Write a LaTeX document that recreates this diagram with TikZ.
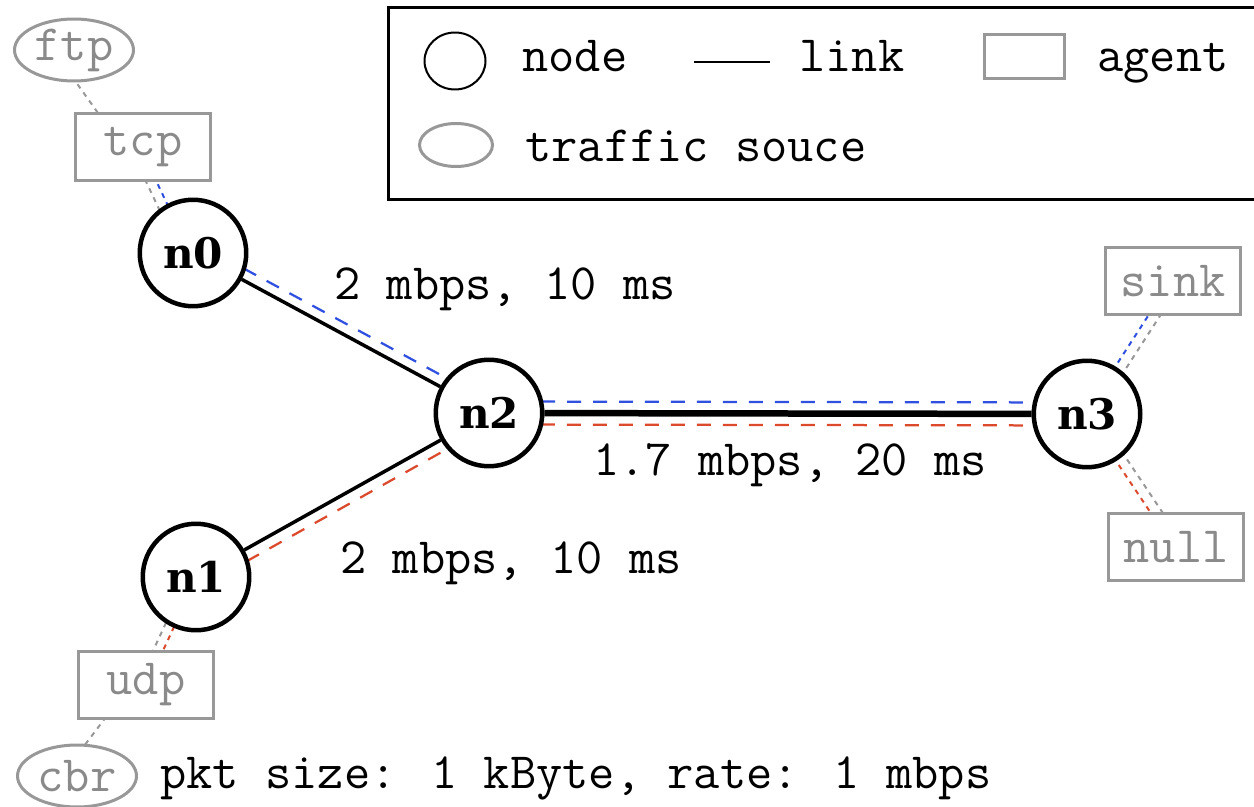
\documentclass[tikz,border=0pt]{standalone}
\usepackage{fontspec}
\newfontfamily\nodelabelfont{DejaVu Serif}
\usepackage{xcolor}
\usepackage{tikz}
\usetikzlibrary{calc}
\usetikzlibrary{shapes.geometric}
\usetikzlibrary{backgrounds}
\definecolor{flowblue}{HTML}{3050E0}
\definecolor{flowred}{HTML}{DC4A2E}
\definecolor{agentgray}{HTML}{989898}
\definecolor{agenttext}{HTML}{8A8A8A}

\begin{document}
\begin{tikzpicture}[x=0.02cm, y=-0.02cm,
    font=\ttfamily\fontsize{29}{34}\selectfont,
    netnode/.style={circle, draw, line width=0.09cm, fill=white,
        minimum size=2.13cm, inner sep=0pt,
        font=\nodelabelfont\bfseries\fontsize{24}{27}\selectfont},
    agentbox/.style={rectangle, draw=agentgray, line width=0.06cm, fill=white,
        minimum width=2.7cm, minimum height=1.34cm, inner sep=0pt, text=agenttext,
        font=\ttfamily\fontsize{29}{34}\selectfont},
    trafficsrc/.style={ellipse, draw=agentgray, line width=0.06cm, fill=white,
        minimum width=2.38cm, minimum height=1.24cm, inner sep=0pt, text=agenttext,
        font=\ttfamily\fontsize{29}{34}\selectfont},
    netlink/.style={line width=0.07cm},
    flowline/.style={line width=0.045cm, dash pattern=on 0.28cm off 0.24cm},
    agentline/.style={agentgray, line width=0.04cm, dash pattern=on 0.1cm off 0.1cm},
    legendtext/.style={anchor=base west, inner sep=0pt}]
    \useasboundingbox (0,0) rectangle (1254,807);

    \node[netnode] (n0) at (193,253) {n0};
    \node[netnode] (n1) at (196,577) {n1};
    \node[netnode] (n2) at (489,413) {n2};
    \node[netnode] (n3) at (1087,414) {n3};
    \node[agentbox] (tcp) at (143,147) {tcp};
    \node[agentbox] (udp) at (146,685) {udp};
    \node[agentbox] (sink) at (1173,281) {sink};
    \node[agentbox] (null) at (1176,547) {null};
    \node[trafficsrc] (ftp) at (74,50) {ftp};
    \node[trafficsrc] (cbr) at (77,776) {cbr};

    \node[anchor=base] (upperlbl) at (505,300) {2 mbps, 10 ms};
    \node[anchor=base] (lowerlbl) at (511,573) {2 mbps, 10 ms};
    \node[anchor=base] (corelbl) at (790,475) {1.7 mbps, 20 ms};
    \node[legendtext] (cbrlbl) at (160,788) {pkt size: 1 kByte, rate: 1 mbps};

    \begin{scope}[on background layer]
        \draw[netlink] (n0) -- (n2);
        \draw[netlink] (n1) -- (n2);
        \draw[line width=0.13cm] (n2) -- (n3);
        \draw[flowline, flowblue] ($(n0)!0.21cm!90:(n2)$) -- ($(n2)!0.21cm!-90:(n0)$);
        \draw[flowline, flowred] ($(n1)!0.22cm!-90:(n2)$) -- ($(n2)!0.22cm!90:(n1)$);
        \draw[flowline, flowblue] ($(n2)!0.23cm!90:(n3)$) -- ($(n3)!0.23cm!-90:(n2)$);
        \draw[flowline, flowred] ($(n2)!0.23cm!-90:(n3)$) -- ($(n3)!0.23cm!90:(n2)$);
        \draw[agentline] ($(ftp)!0.34cm!-90:(tcp)$) -- ($(tcp)!0.34cm!90:(ftp)$);
        \draw[agentline] ($(tcp)!0.24cm!-90:(n0)$) -- ($(n0)!0.24cm!90:(tcp)$);
        \draw[agentline, flowblue] ($(tcp)!0.05cm!-90:(n0)$) -- ($(n0)!0.05cm!90:(tcp)$);
        \draw[agentline, flowblue] ($(n3)!0.04cm!90:(sink)$) -- ($(sink)!0.04cm!-90:(n3)$);
        \draw[agentline] ($(n3)!0.16cm!-90:(sink)$) -- ($(sink)!0.16cm!90:(n3)$);
        \draw[agentline, flowred] ($(n3)!0.04cm!-90:(null)$) -- ($(null)!0.04cm!90:(n3)$);
        \draw[agentline] ($(n3)!0.16cm!90:(null)$) -- ($(null)!0.16cm!-90:(n3)$);
        \draw[agentline] ($(udp)!0.16cm!90:(n1)$) -- ($(n1)!0.16cm!-90:(udp)$);
        \draw[agentline, flowred] ($(udp)!0.02cm!-90:(n1)$) -- ($(n1)!0.02cm!90:(udp)$);
        \draw[agentline] ($(cbr)!0.25cm!90:(udp)$) -- ($(udp)!0.25cm!-90:(cbr)$);
    \end{scope}

    \draw[line width=0.06cm] (388,8) rectangle (1262,200);
    \node[ellipse, draw, line width=0.04cm, minimum width=1.22cm, minimum height=1.14cm, inner sep=0pt] (lgnode) at (455,61) {};
    \node[legendtext] (lgnodetxt) at (522,72) {node};
    \coordinate (lglinka) at (694,62);
    \coordinate (lglinkb) at (770,62);
    \draw[line width=0.04cm] (lglinka) -- (lglinkb);
    \node[legendtext] (lglinktxt) at (799,72) {link};
    \node[rectangle, draw=agentgray, line width=0.06cm, minimum width=1.6cm, minimum height=0.88cm] (lgagent) at (1024.5,56.5) {};
    \node[legendtext] (lgagenttxt) at (1097,72) {agent};
    \node[ellipse, draw=agentgray, line width=0.06cm, minimum width=1.46cm, minimum height=0.86cm, inner sep=0pt] (lgsrc) at (456,145) {};
    \node[legendtext] (lgsrctxt) at (525,162) {traffic souce};
\end{tikzpicture}
\end{document}
